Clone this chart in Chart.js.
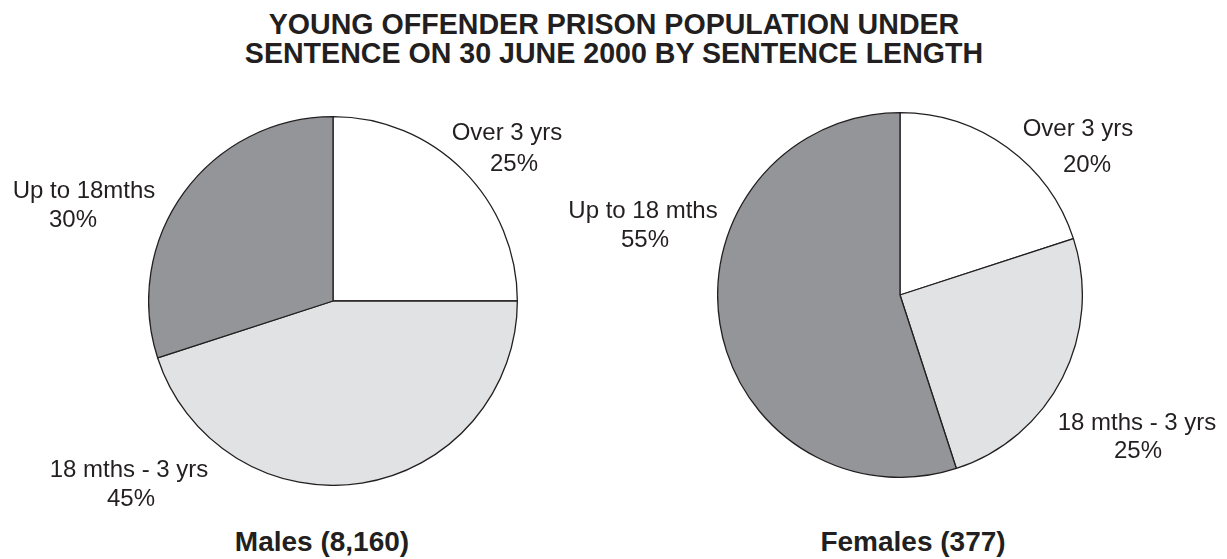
<!DOCTYPE html>
<html>
<head>
<meta charset="utf-8">
<script src="https://cdn.jsdelivr.net/npm/chart.js@4"></script>
<style>
  html, body { margin: 0; padding: 0; background: #fff; }
  #page { position: relative; width: 1227px; height: 559px; overflow: hidden; font-family: "Liberation Sans", Arial, sans-serif; color: #231f20; }
  .box { position: absolute; }
  .txt { position: absolute; white-space: nowrap; transform: translateX(-50%); }
  .lbl { font-size: 24px; line-height: 24px; }
  .bold { font-size: 28px; line-height: 28px; font-weight: bold; }
  .head { font-size: 28.6px; line-height: 28.6px; font-weight: bold; }
</style>
</head>
<body>
<div id="page">
  <div class="box" style="left:148px; top:116px; width:370px; height:370px;"><canvas id="males"></canvas></div>
  <div class="box" style="left:717px; top:112px; width:366px; height:366px;"><canvas id="females"></canvas></div>
  <div id="texts"></div>
</div>
<script>
// Title lines
const titleLines = ['YOUNG OFFENDER PRISON POPULATION UNDER', 'SENTENCE ON 30 JUNE 2000 BY SENTENCE LENGTH'];

// Slices in drawing order (clockwise from 12 o'clock)
const malesCategories = ['Over 3 yrs', '18 mths - 3 yrs', 'Up to 18mths'];
const femalesCategories = ['Over 3 yrs', '18 mths - 3 yrs', 'Up to 18 mths'];

// Percentages
const malesValues = [25, 45, 30];
const femalesValues = [20, 25, 55];

const malesTitle = 'Males (8,160)';
const femalesTitle = 'Females (377)';

const sliceColours = ['#ffffff', '#e1e2e3', '#939598'];

// text placement: [centre x, baseline y] for category line and percent line
const titlePos = [[614, 34], [614, 63]];
const malesLabelPos = [[[507, 140], [514, 171]], [[129, 477], [131, 506]], [[84, 198], [73, 227]]];
const femalesLabelPos = [[[1078, 136], [1087, 172]], [[1137, 430], [1138, 458]], [[643, 218], [645, 247]]];
const subPos = [[322, 552], [913, 552]];

function makePie(id, labels, values) {
  return new Chart(document.getElementById(id), {
    type: 'pie',
    data: {
      labels: labels,
      datasets: [{
        data: values,
        backgroundColor: sliceColours,
        borderColor: '#231f20',
        borderWidth: 1.3
      }]
    },
    options: {
      responsive: true,
      maintainAspectRatio: true,
      aspectRatio: 1,
      animation: false,
      layout: { padding: 0 },
      plugins: {
        legend: { display: false },
        tooltip: { enabled: false },
        title: { display: false }
      }
    }
  });
}

makePie('males', malesCategories, malesValues);
makePie('females', femalesCategories, femalesValues);

// text: baseline offset inside a line box (Liberation Sans)
const holder = document.getElementById('texts');
function addText(text, pos, cls, size) {
  const d = document.createElement('div');
  d.className = 'txt ' + cls;
  const baseOff = size * 0.905 + (size - size * 1.117) / 2;
  d.style.left = pos[0] + 'px';
  d.style.top = (pos[1] - baseOff) + 'px';
  d.textContent = text;
  holder.appendChild(d);
}
titleLines.forEach((t, i) => addText(t, titlePos[i], 'head', 28.6));
malesCategories.forEach((c, i) => {
  addText(c, malesLabelPos[i][0], 'lbl', 24);
  addText(malesValues[i] + '%', malesLabelPos[i][1], 'lbl', 24);
});
femalesCategories.forEach((c, i) => {
  addText(c, femalesLabelPos[i][0], 'lbl', 24);
  addText(femalesValues[i] + '%', femalesLabelPos[i][1], 'lbl', 24);
});
addText(malesTitle, subPos[0], 'bold', 28);
addText(femalesTitle, subPos[1], 'bold', 28);
</script>
</body>
</html>
